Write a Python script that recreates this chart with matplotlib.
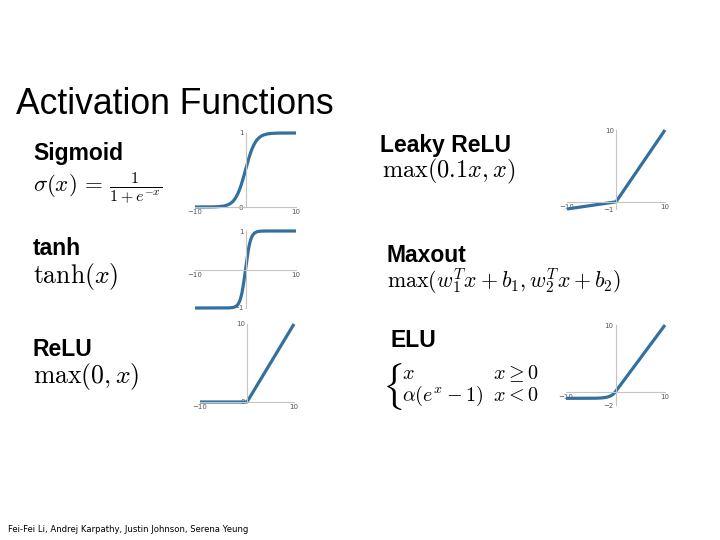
import numpy as np
import matplotlib
matplotlib.use('Agg')
import matplotlib.pyplot as plt

plt.rcParams['mathtext.fontset'] = 'cm'

# Названия и формулы
title = 'Activation Functions'
names = ['Sigmoid', 'tanh', 'ReLU', 'Leaky ReLU', 'Maxout', 'ELU']
formulas = [r'$\sigma(x)\,=\,\frac{1}{1+e^{-x}}$',
            r'$\tanh(x)$',
            r'$\max(0,x)$',
            r'$\max(0.1x,x)$',
            r'$\max(w_1^Tx+b_1,w_2^Tx+b_2)$']
elu_rows = [(r'$x$', r'$x\geq0$'), (r'$\alpha(e^x-1)$', r'$x<0$')]
footer = 'Fei-Fei Li, Andrej Karpathy, Justin Johnson, Serena Yeung'

# Пределы осей для маленьких графиков
x_lim = [-10, 10]
sig_ylim = [0, 1]
tanh_ylim = [-1, 1]
relu_ylim = [0, 10]
leaky_ylim = [-1, 10]
elu_ylim = [-2, 10]
elu_alpha = 1.0
leaky_slope = 0.1

xs = np.linspace(x_lim[0], x_lim[1], 401)

LINE = '#31709f'
AXC = '#c4c4c4'


def px(x, y):
    return x / 720, 1 - y / 540


def small_plot(left, right, top, bottom, ylim, ys):
    # Рамка по пикселям: ось x от left до right, ось y от top до bottom
    ax = fig.add_axes([left / 720, 1 - bottom / 540,
                       (right - left) / 720, (bottom - top) / 540])
    ax.plot(xs, ys, color=LINE, lw=2.3, clip_on=False, solid_capstyle='butt')
    ax.set_xlim(x_lim)
    ax.set_ylim(ylim)
    ax.patch.set_alpha(0)
    for s in ['top', 'right']:
        ax.spines[s].set_visible(False)
    ax.spines['left'].set_position(('data', 0))
    ax.spines['bottom'].set_position(('data', 0))
    for s in ['left', 'bottom']:
        ax.spines[s].set_color(AXC)
        ax.spines[s].set_linewidth(0.8)
    ax.set_xticks(x_lim)
    ax.set_yticks(ylim)
    ax.set_xticklabels(['\u221210', '10'])
    ax.set_yticklabels([str(v).replace('-', '\u2212') for v in ylim])
    ax.tick_params(length=0, pad=1.5, labelsize=5, labelcolor='#555555')
    return ax


fig = plt.figure(figsize=(7.2, 5.4), dpi=100)

fig.text(*px(16, 114), title, fontsize=25.6, family='Liberation Sans',
         va='baseline')

# Подписи
label_pos = [(33, 160), (33, 255), (33, 356), (380, 152), (387, 262), (390, 347)]
formula_pos = [(33, 192), (33, 283), (33, 383), (382, 177), (387, 287)]
formula_size = [16.5, 18.5, 18.5, 17.5, 15.8]
for name, (x, y) in zip(names, label_pos):
    fig.text(*px(x, y), name, fontsize=16.5, family='Liberation Sans',
             weight='bold', va='baseline')
for f, (x, y), s in zip(formulas, formula_pos, formula_size):
    fig.text(*px(x, y), f, fontsize=s, va='baseline')

# ELU: скобка и две строки
fig.text(*px(382, 386), r'$\{$', fontsize=28, va='center')
for (a, b), y in zip(elu_rows, [379, 401]):
    fig.text(*px(402, y), a, fontsize=14.5, va='baseline')
    fig.text(*px(493, y), b, fontsize=14.5, va='baseline')

fig.text(*px(8, 532), footer, fontsize=6.1, family='Liberation Sans Narrow',
         va='baseline')

sig = 1 / (1 + np.exp(-xs))
small_plot(195, 296, 133, 207, sig_ylim, sig)
small_plot(195, 296, 231, 308, tanh_ylim, np.tanh(xs))
small_plot(200, 294, 324, 402, relu_ylim, np.maximum(0, xs))
small_plot(567, 665, 130, 209, leaky_ylim, np.maximum(leaky_slope * xs, xs))
small_plot(566, 665, 325, 405, elu_ylim,
           np.where(xs >= 0, xs, elu_alpha * (np.exp(xs) - 1)))

fig.savefig('out.png', dpi=100)
